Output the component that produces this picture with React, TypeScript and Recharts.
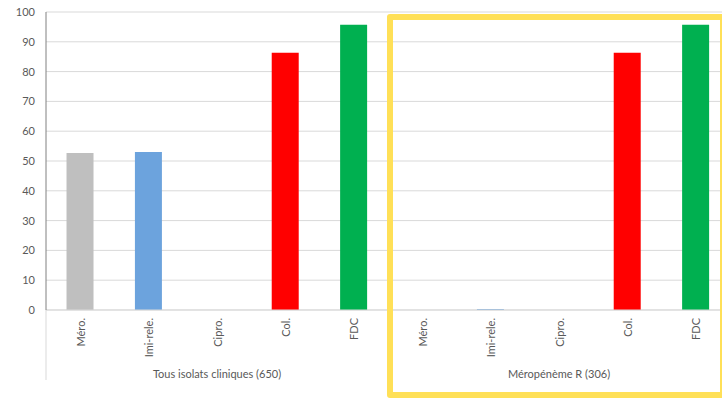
import React from "react";
import { BarChart, Bar, XAxis, YAxis, CartesianGrid, Cell } from "recharts";

// Antibiotic categories shown in each panel
const categories = ["Méro.", "Imi-rele.", "Cipro.", "Col.", "FDC"];
// Panel (group) titles
const groups = ["Tous isolats cliniques (650)", "Méropénème R (306)"];
// Susceptibility (%) per antibiotic, all clinical isolates
const allIsolates = [52.7, 53.0, 0, 86.3, 95.7];
// Susceptibility (%) per antibiotic, meropenem-resistant isolates
const meropenemR = [0, 0.3, 0, 86.3, 95.7];
// Y-axis ticks
const yTicks = [0, 10, 20, 30, 40, 50, 60, 70, 80, 90, 100];
// Bar colour per antibiotic
const barColors = ["#BFBFBF", "#6CA3DD", "#A5A5A5", "#FF0000", "#00B050"];

const seriesByGroup = [allIsolates, meropenemR];

const data = groups.flatMap((group, gi) =>
  categories.map((category, ci) => ({
    id: `${gi}-${ci}`,
    category,
    group,
    value: seriesByGroup[gi][ci],
    color: barColors[ci],
  }))
);

const FONT = "Lato, 'Open Sans', sans-serif";
const TEXT = "#595959";
const RULE = "#D9D9D9";

const CategoryTick = (props: any) => {
  const { x, y, payload, index } = props;
  const entry = data.find((d) => d.id === payload.value) ?? data[index];
  return (
    <text
      x={x}
      y={y}
      transform={`rotate(-90, ${x}, ${y})`}
      textAnchor="end"
      dominantBaseline="central"
      fill={TEXT}
      fontSize={11}
      fontFamily={FONT}
    >
      {entry ? entry.category : ""}
    </text>
  );
};

const GroupTick = (props: any) => {
  const { x, y, payload, index } = props;
  const half = payload && payload.offset ? payload.offset : 171;
  return (
    <g>
      <line x1={x - half} x2={x - half} y1={y - 63} y2={y + 7} stroke={RULE} strokeWidth={1} />
      {index === groups.length - 1 && (
        <line x1={x + half} x2={x + half} y1={y - 63} y2={y + 7} stroke={RULE} strokeWidth={1} />
      )}
      <text
        x={x}
        y={y}
        textAnchor="middle"
        dominantBaseline="central"
        fill={TEXT}
        fontSize={11}
        fontFamily={FONT}
      >
        {payload.value}
      </text>
    </g>
  );
};

export default function App() {
  return (
    <div
      style={{
        position: "fixed",
        left: 0,
        top: 0,
        width: 722,
        height: 398,
        overflow: "hidden",
        background: "#FFFFFF",
      }}
    >
      <BarChart
        width={730}
        height={398}
        data={data}
        margin={{ top: 12, right: 0, left: 0, bottom: 0 }}
        barCategoryGap="30%"
      >
        <CartesianGrid vertical={false} stroke={RULE} strokeWidth={1} />
        <XAxis
          dataKey="id"
          interval={0}
          height={55}
          axisLine={{ stroke: RULE }}
          tickLine={false}
          tick={<CategoryTick />}
        />
        <XAxis
          xAxisId="group"
          dataKey="group"
          allowDuplicatedCategory={false}
          interval={0}
          height={33}
          axisLine={false}
          tickLine={false}
          tick={<GroupTick />}
        />
        <YAxis
          width={46}
          domain={[0, 100]}
          ticks={yTicks}
          interval={0}
          axisLine={{ stroke: "#808080" }}
          tickLine={false}
          tickMargin={5}
          tick={{ fill: TEXT, fontSize: 11, fontFamily: FONT }}
        />
        <Bar dataKey="value" isAnimationActive={false}>
          {data.map((d) => (
            <Cell key={d.id} fill={d.color} />
          ))}
        </Bar>
      </BarChart>
      <div
        style={{
          position: "absolute",
          left: 387,
          top: 14,
          width: 338.5,
          height: 383.5,
          boxSizing: "border-box",
          border: "6.5px solid #FFE057",
          borderRadius: 3,
          pointerEvents: "none",
        }}
      />
    </div>
  );
}
